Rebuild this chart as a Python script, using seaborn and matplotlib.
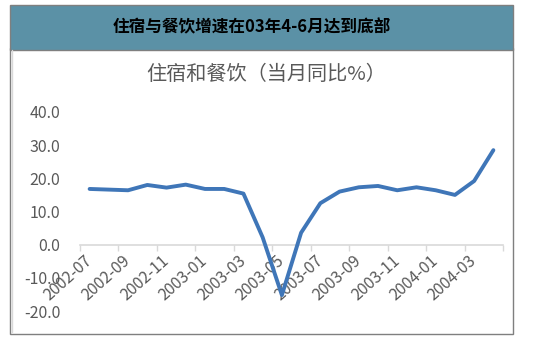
import matplotlib
matplotlib.use("Agg")
import matplotlib.pyplot as plt
from matplotlib.patches import Rectangle
from matplotlib.ticker import FixedLocator
import seaborn as sns
import pandas as pd

months = ["2002-07", "2002-08", "2002-09", "2002-10", "2002-11", "2002-12",
          "2003-01", "2003-02", "2003-03", "2003-04", "2003-05", "2003-06",
          "2003-07", "2003-08", "2003-09", "2003-10", "2003-11", "2003-12",
          "2004-01", "2004-02", "2004-03", "2004-04"]
values = [16.8, 16.6, 16.4, 18.0, 17.2, 18.1, 16.8, 16.8, 15.4, 2.2, -15.2, 3.6,
          12.5, 16.0, 17.3, 17.7, 16.4, 17.3, 16.4, 15.0, 19.2, 28.5]
yticks = [-20, -10, 0, 10, 20, 30, 40]
title = "住宿与餐饮增速在03年4-6月达到底部"
subtitle = "住宿和餐饮（当月同比%）"

sns.set_theme(style="white")
plt.rcParams['font.family'] = ['Noto Sans CJK SC', 'DejaVu Sans']

W, H = 543, 340
fig = plt.figure(figsize=(W / 100, H / 100), dpi=100)
fig.patch.set_facecolor("white")

def fx(px):
    return px / W

def fy(py):
    return 1 - py / H

# panel border
fig.patches.append(Rectangle((fx(9.5), fy(333.5)), fx(503.5), (333.5 - 48) / H,
                             transform=fig.transFigure, facecolor="white",
                             edgecolor="#7f7f7f", linewidth=1.0, zorder=0))
# inner shadow line
fig.lines.append(plt.Line2D([fx(11.5), fx(11.5)], [fy(50), fy(332)],
                            transform=fig.transFigure, color="#d9d9d9", lw=1.0))
# header band
fig.patches.append(Rectangle((fx(9.5), fy(50)), fx(503.5), 45 / H,
                             transform=fig.transFigure, facecolor="#5b91a6",
                             edgecolor="#7f7f7f", linewidth=1.0, zorder=1))
fig.text(fx(252), fy(27), title, ha="center", va="center", fontsize=12,
         fontweight="bold", color="black")
fig.text(fx(266), fy(74), subtitle, ha="center", va="center", fontsize=14.5,
         color="#595959")

ax = fig.add_axes([fx(80), fy(311), fx(503) - fx(80), (311 - 112) / H])
ax.set_zorder(5)
ax.set_facecolor("none")
df = pd.DataFrame({"month": months, "value": values})
df["idx"] = range(len(months))
sns.lineplot(data=df, x="idx", y="value", ax=ax, color="#3f76b8", linewidth=2.8)

for s in ["left", "right", "top"]:
    ax.spines[s].set_visible(False)
ax.spines["bottom"].set_position(("data", 0))
ax.spines["bottom"].set_color("#d9d9d9")
ax.spines["bottom"].set_linewidth(1.2)
ax.spines["bottom"].set_zorder(0)

ax.set_xlim(-0.5, len(months) - 0.5)
ax.set_ylim(-20, 40)
ax.set_yticks(yticks)
ax.set_yticklabels([f"{v:.1f}" for v in yticks])
ax.tick_params(axis="y", length=0, pad=14, labelsize=11.5, labelcolor="#595959")

ax.set_xticks(list(range(0, len(months), 2)))
ax.set_xticklabels(months[::2], rotation=42, ha="right", va="center",
                   rotation_mode="anchor")
ax.tick_params(axis="x", which="major", length=0, pad=10, labelsize=11.5,
               labelcolor="#595959")
ax.xaxis.set_minor_locator(FixedLocator([i - 0.5 for i in range(0, len(months) + 1, 2)]))
ax.tick_params(axis="x", which="minor", length=4, width=1, color="#d9d9d9",
               bottom=True)
ax.set_xlabel("")
ax.set_ylabel("")
ax.grid(False)

fig.savefig("out.png", dpi=100)
